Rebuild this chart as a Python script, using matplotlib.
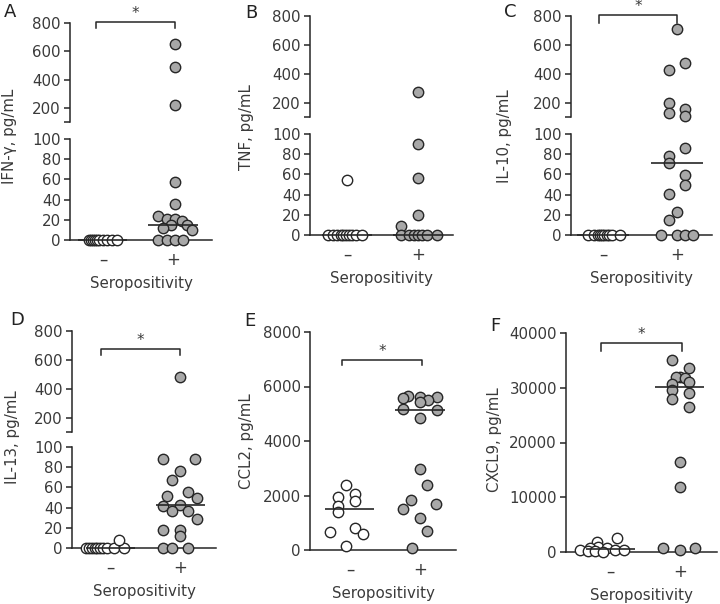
import matplotlib
matplotlib.use('Agg')
import matplotlib.pyplot as plt

# ---- data (pg/mL); *_jit = horizontal scatter offset of each dot
groups = ['\u2013', '+']

ifng_neg = [0, 0, 0, 0, 0, 0, 0, 0, 0, 0]
ifng_neg_jit = [-0.2, -0.17, -0.14, -0.11, -0.08, -0.05, 0.0, 0.06, 0.13, 0.2]
ifng_pos = [655, 490, 220, 57, 36, 24, 21, 21, 19, 15, 15, 12, 10, 0, 0, 0, 0]
ifng_pos_jit = [0.03, 0.03, 0.03, 0.03, 0.03, -0.21, -0.09, 0.03, 0.13, 0.2, -0.03, -0.14, 0.27,
                -0.21, -0.09, 0.03, 0.14]
ifng_median = [0, 15]

tnf_neg = [54, 0, 0, 0, 0, 0, 0, 0, 0, 0, 0]
tnf_neg_jit = [0.0, -0.27, -0.2, -0.14, -0.09, -0.05, -0.01, 0.03, 0.07, 0.12, 0.21]
tnf_pos = [270, 90, 56, 20, 9, 0, 0, 0, 0, 0, 0, 0]
tnf_pos_jit = [0.0, 0.0, 0.0, 0.0, -0.24, -0.24, -0.12, -0.05, 0.0, 0.05, 0.12, 0.27]
tnf_median = [0, 0]

il10_neg = [0, 0, 0, 0, 0, 0, 0, 0, 0, 0]
il10_neg_jit = [-0.2, -0.12, -0.07, -0.04, -0.01, 0.02, 0.05, 0.08, 0.12, 0.23]
il10_pos = [710, 474, 423, 195, 155, 130, 110, 86, 78, 71, 59, 50, 41, 23, 15, 0, 0, 0, 0]
il10_pos_jit = [0.0, 0.11, -0.11, -0.11, 0.11, -0.11, 0.11, 0.11, -0.11, -0.11, 0.11, 0.11, -0.11,
                0.0, -0.11, -0.22, 0.0, 0.11, 0.22]
il10_median = [0, 71]

il13_neg = [0, 0, 0, 0, 0, 0, 0, 0, 0, 0, 8]
il13_neg_jit = [-0.35, -0.3, -0.26, -0.22, -0.18, -0.14, -0.1, -0.05, 0.05, 0.2, 0.13]
il13_pos = [480, 88, 88, 76, 67, 55, 51, 50, 43, 42, 37, 37, 29, 18, 18, 12, 0, 0, 0]
il13_pos_jit = [0.0, -0.24, 0.22, 0.0, -0.12, 0.12, -0.18, 0.24, 0.0, -0.24, -0.12, 0.12, 0.24,
                -0.24, 0.0, 0.0, -0.24, -0.12, 0.12]
il13_median = [0, 43]

ccl2_neg = [2400, 2050, 1950, 1800, 1600, 1400, 820, 650, 575, 160]
ccl2_neg_jit = [-0.05, 0.07, -0.17, 0.07, -0.17, -0.17, 0.07, -0.28, 0.19, -0.05]
ccl2_pos = [5650, 5625, 5600, 5565, 5500, 5420, 5175, 5140, 4860, 2970, 2380, 1840, 1680, 1500,
            1160, 700, 80]
ccl2_pos_jit = [-0.17, 0.0, 0.24, -0.25, 0.12, 0.0, -0.25, 0.24, 0.0, 0.0, 0.1, -0.13, 0.23, -0.24,
                0.0, 0.1, -0.12]
ccl2_median = [1500, 5150]

cxcl9_neg = [2500, 1850, 1000, 700, 700, 300, 300, 300, 200, 100, 0]
cxcl9_neg_jit = [0.1, -0.19, -0.17, -0.29, -0.05, -0.43, 0.07, 0.2, -0.31, -0.21, -0.1]
cxcl9_pos = [35000, 33600, 32000, 31900, 31800, 31100, 30700, 29500, 29000, 27900, 26400, 16500,
             11900, 800, 300, 800]
cxcl9_pos_jit = [-0.12, 0.13, 0.0, -0.05, 0.07, 0.13, -0.12, -0.12, 0.13, -0.12, 0.13, 0.0, 0.0,
                 -0.24, 0.0, 0.22]
cxcl9_median = [500, 30200]

# ---- figure
W, H = 720, 604
GRAY = '#a8a8a8'
EDGE = '#262626'
TXT = '#3a3a3a'
FS = 10.8

plt.rcParams['font.family'] = 'DejaVu Sans'
plt.rcParams['text.color'] = TXT
plt.rcParams['xtick.color'] = EDGE
plt.rcParams['ytick.color'] = EDGE
plt.rcParams['xtick.labelcolor'] = TXT
plt.rcParams['ytick.labelcolor'] = TXT

fig = plt.figure(figsize=(W / 100, H / 100), dpi=100)


def rect(x0, x1, top, bottom):
    return [x0 / W, 1 - bottom / H, (x1 - x0) / W, (bottom - top) / H]


def base_style(ax, xlim):
    ax.set_xlim(xlim)
    ax.patch.set_visible(False)
    for s in ['top', 'right']:
        ax.spines[s].set_visible(False)
    ax.spines['left'].set_linewidth(1.1)
    ax.spines['left'].set_color(EDGE)
    ax.tick_params(axis='y', length=4.5, width=1.1, pad=2, labelsize=FS, direction='out')


def dots(ax, vals, jit, xpos, filled, keep):
    xs = [xpos + j for v, j in zip(vals, jit) if keep(v)]
    ys = [v for v in vals if keep(v)]
    ax.scatter(xs, ys, s=56, facecolor=GRAY if filled else 'white', edgecolor=EDGE,
               linewidth=1.0, zorder=3, clip_on=False)


def bottom_axis(ax):
    ax.spines['bottom'].set_linewidth(1.1)
    ax.spines['bottom'].set_color(EDGE)
    ax.set_xticks([0, 1])
    ax.set_xticklabels(groups, fontsize=12)
    ax.tick_params(axis='x', length=0, pad=8)


def panel(letter, ylabel, neg, neg_jit, pos, pos_jit, med, x0, x1, xlim,
          lower, upper=None, ylim=None, yticks=None, bracket=None, label_y=None, letter_xy=None,
          ylabel_x=None):
    ax_lo = fig.add_axes(rect(x0, x1, *lower))
    base_style(ax_lo, xlim)
    if upper is not None:
        ax_hi = fig.add_axes(rect(x0, x1, *upper))
        base_style(ax_hi, xlim)
        ax_lo.set_ylim(0, 100)
        ax_lo.set_yticks([0, 20, 40, 60, 80, 100])
        ax_hi.set_ylim(100, 800)
        ax_hi.set_yticks([100, 200, 400, 600, 800])
        ax_hi.set_yticklabels(['', '200', '400', '600', '800'])
        ax_hi.spines['bottom'].set_visible(False)
        ax_hi.set_xticks([])
        split = 100
        parts = [(ax_lo, lambda v: v <= split), (ax_hi, lambda v: v > split)]
    else:
        ax_lo.set_ylim(*ylim)
        ax_lo.set_yticks(yticks)
        ax_hi = ax_lo
        split = ylim[1]
        parts = [(ax_lo, lambda v: True)]
    bottom_axis(ax_lo)

    for ax, keep in parts:
        dots(ax, neg, neg_jit, 0, False, keep)
        dots(ax, pos, pos_jit, 1, True, keep)
    for i, m in enumerate(med):
        ax = ax_lo if m <= split else ax_hi
        ax.plot([i - 0.35, i + 0.35], [m, m], color=EDGE, lw=1.2, zorder=4,
                solid_capstyle='butt', clip_on=False)

    if bracket is not None:
        bx0, bx1, by, btick = bracket
        bx1 = 1 + bx1
        ax_hi.plot([bx0, bx0, bx1, bx1], [btick, by, by, btick], color=EDGE, lw=1.1,
                   clip_on=False, zorder=4)
        ax_hi.annotate('*', xy=((bx0 + bx1) / 2, by), xytext=(0, 1), textcoords='offset points',
                       ha='center', va='bottom', fontsize=FS, color=TXT, annotation_clip=False)

    cx = (x0 + x1) / 2
    fig.text(cx / W, 1 - (lower[1] + 48) / H, 'Seropositivity', ha='center', va='baseline',
             fontsize=FS)
    fig.text(ylabel_x / W, 1 - label_y / H, ylabel, rotation=90, ha='center', va='center',
             fontsize=FS)
    fig.text(letter_xy[0] / W, 1 - letter_xy[1] / H, letter, ha='center', va='center',
             fontsize=13, color='#222222')


panel('A', 'IFN-\u03b3, pg/mL', ifng_neg, ifng_neg_jit, ifng_pos, ifng_pos_jit, ifng_median,
      70, 212, (-0.471, 1.557), lower=(139, 240), upper=(23, 122),
      bracket=(-0.1, 0.03, 805, 765), label_y=136, letter_xy=(10, 12), ylabel_x=10)
panel('B', 'TNF, pg/mL', tnf_neg, tnf_neg_jit, tnf_pos, tnf_pos_jit, tnf_median,
      310, 453, (-0.521, 1.493), lower=(134, 235), upper=(16, 117),
      label_y=127, letter_xy=(251, 13), ylabel_x=247)
panel('C', 'IL-10, pg/mL', il10_neg, il10_neg_jit, il10_pos, il10_pos_jit, il10_median,
      571, 712, (-0.432, 1.473), lower=(134, 235), upper=(16, 117),
      bracket=(-0.05, 0.0, 807, 752), label_y=136, letter_xy=(510, 12), ylabel_x=505)
panel('D', 'IL-13, pg/mL', il13_neg, il13_neg_jit, il13_pos, il13_pos_jit, il13_median,
      72, 216, (-0.543, 1.514), lower=(447, 548), upper=(331, 432),
      bracket=(-0.13, 0.0, 674, 632), label_y=437, letter_xy=(17, 320), ylabel_x=13)
panel('E', 'CCL2, pg/mL', ccl2_neg, ccl2_neg_jit, ccl2_pos, ccl2_pos_jit, ccl2_median,
      310, 456, (-0.571, 1.514), lower=(332, 550), ylim=(0, 8000),
      yticks=[0, 2000, 4000, 6000, 8000],
      bracket=(-0.11, 0.03, 6970, 6780), label_y=441, letter_xy=(250, 321), ylabel_x=247)
panel('F', 'CXCL9, pg/mL', cxcl9_neg, cxcl9_neg_jit, cxcl9_pos, cxcl9_pos_jit, cxcl9_median,
      566, 717, (-0.629, 1.529), lower=(333, 552), ylim=(0, 40000),
      yticks=[0, 10000, 20000, 30000, 40000],
      bracket=(-0.13, 0.03, 38100, 36750), label_y=440, letter_xy=(495, 326), ylabel_x=495)

fig.savefig('out.png', dpi=100)
